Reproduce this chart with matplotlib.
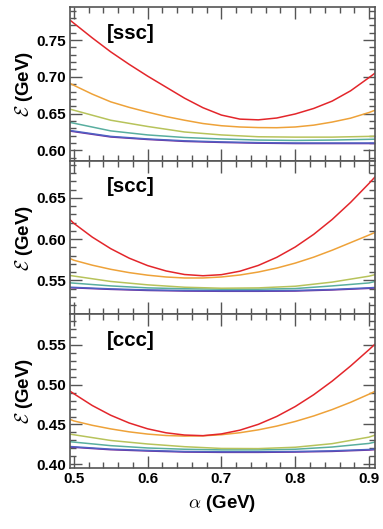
import numpy as np
import matplotlib
matplotlib.use("Agg")
import matplotlib.pyplot as plt
from matplotlib.ticker import MultipleLocator, FormatStrFormatter

plt.rcParams['font.family'] = ['Liberation Sans', 'DejaVu Sans']
plt.rcParams['font.weight'] = 'bold'
plt.rcParams['mathtext.fontset'] = 'cm'

# alpha grids (GeV): fine one for the strongly curved lines
alpha_fine = [0.495, 0.5, 0.525, 0.55, 0.575, 0.6, 0.625, 0.65, 0.675, 0.7,
              0.725, 0.75, 0.775, 0.8, 0.825, 0.85, 0.875, 0.9, 0.908]
alpha = [0.495, 0.55, 0.6, 0.65, 0.7, 0.75, 0.8, 0.85, 0.9, 0.908]

# [ssc]
ssc_red    = [0.777, 0.773, 0.753, 0.734, 0.717, 0.701, 0.686, 0.671, 0.658, 0.648,
              0.6425, 0.6415, 0.644, 0.6495, 0.657, 0.667, 0.681, 0.699, 0.705]
ssc_orange = [0.691, 0.6885, 0.6765, 0.666, 0.6585, 0.652, 0.646, 0.641, 0.6365, 0.6335,
              0.6318, 0.631, 0.6308, 0.6318, 0.6343, 0.6385, 0.6438, 0.6515, 0.6545]
ssc_yellow = [0.656, 0.641, 0.6325, 0.625, 0.621, 0.6185, 0.618, 0.618, 0.619, 0.6193]
ssc_teal   = [0.638, 0.6265, 0.621, 0.6175, 0.6155, 0.614, 0.6135, 0.614, 0.615, 0.6152]
ssc_blue   = [0.6270, 0.6190, 0.6155, 0.6130, 0.6115, 0.6105, 0.6100, 0.6100, 0.6100, 0.6100]
ssc_purple = [0.6262, 0.6182, 0.6148, 0.6122, 0.6108, 0.6098, 0.6093, 0.6093, 0.6093, 0.6093]

# [scc]
scc_red    = [0.6235, 0.6192, 0.6025, 0.5885, 0.5770, 0.5680, 0.5615, 0.5572, 0.5557, 0.5570,
              0.5612, 0.5682, 0.5780, 0.5905, 0.6058, 0.6238, 0.6445, 0.6675, 0.6752]
scc_orange = [0.5765, 0.5745, 0.5685, 0.5635, 0.5595, 0.5564, 0.5542, 0.5530, 0.5530, 0.5542,
              0.5566, 0.5602, 0.5650, 0.5710, 0.5782, 0.5866, 0.5958, 0.6050, 0.6081]
scc_yellow = [0.556, 0.5488, 0.5447, 0.5418, 0.5406, 0.541, 0.543, 0.548, 0.5552, 0.557]
scc_teal   = [0.5471, 0.5434, 0.541, 0.540, 0.5394, 0.5394, 0.5402, 0.5434, 0.547, 0.5488]
scc_blue   = [0.5418, 0.5398, 0.5385, 0.5379, 0.5375, 0.5375, 0.5379, 0.5391, 0.5411, 0.5415]
scc_purple = [0.5412, 0.5392, 0.5379, 0.5372, 0.5369, 0.5369, 0.5372, 0.5385, 0.5404, 0.5409]

# [ccc]
ccc_red    = [0.4917, 0.4886, 0.4738, 0.4616, 0.4519, 0.4446, 0.4396, 0.4368, 0.4360, 0.4382,
              0.4429, 0.4502, 0.4601, 0.4725, 0.4873, 0.5043, 0.5233, 0.5438, 0.5506]
ccc_orange = [0.4564, 0.4545, 0.4490, 0.4445, 0.4408, 0.4380, 0.4362, 0.4355, 0.4358, 0.4372,
              0.4397, 0.4433, 0.4480, 0.4538, 0.4607, 0.4687, 0.4778, 0.4880, 0.4915]
ccc_yellow = [0.4379, 0.430, 0.4256, 0.4222, 0.420, 0.4198, 0.4215, 0.426, 0.4342, 0.4367]
ccc_teal   = [0.4284, 0.4235, 0.4206, 0.419, 0.4182, 0.4182, 0.419, 0.4218, 0.4263, 0.428]
ccc_blue   = [0.4224, 0.4191, 0.4175, 0.4162, 0.4158, 0.4158, 0.4162, 0.4170, 0.4187, 0.4192]
ccc_purple = [0.4217, 0.4184, 0.4168, 0.4155, 0.4151, 0.4151, 0.4155, 0.4163, 0.4180, 0.4185]

panels = [
    ("[ssc]", [ssc_red, ssc_orange], [ssc_yellow, ssc_teal, ssc_blue, ssc_purple], (0.586, 0.795)),
    ("[scc]", [scc_red, scc_orange], [scc_yellow, scc_teal, scc_blue, scc_purple], (0.509, 0.695)),
    ("[ccc]", [ccc_red, ccc_orange], [ccc_yellow, ccc_teal, ccc_blue, ccc_purple], (0.3955, 0.588)),
]
colors_top = ['#e3262b', '#eea239']
colors_low = ['#b7c35b', '#58ae9f', '#4f62c4', '#742c9c']

fig, axes = plt.subplots(3, 1, figsize=(3.83, 5.29), dpi=100, sharex=True)
fig.subplots_adjust(left=0.183, right=0.979, top=0.9868, bottom=0.1153, hspace=0)

frame = '#555555'
for ax, (name, upper, lower, ylim) in zip(axes, panels):
    for ys, c in zip(lower[::-1], colors_low[::-1]):
        ax.plot(alpha, ys, color=c, lw=1.1)
    for ys, c in zip(upper[::-1], colors_top[::-1]):
        ax.plot(alpha_fine, ys, color=c, lw=1.1)
    ax.set_xlim(0.495, 0.908)
    ax.set_ylim(*ylim)
    ax.xaxis.set_major_locator(MultipleLocator(0.1))
    ax.xaxis.set_minor_locator(MultipleLocator(0.02))
    ax.yaxis.set_major_locator(MultipleLocator(0.05))
    ax.yaxis.set_minor_locator(MultipleLocator(0.01))
    ax.yaxis.set_major_formatter(FormatStrFormatter('%.2f'))
    ax.xaxis.set_major_formatter(FormatStrFormatter('%.1f'))
    ax.tick_params(which='both', direction='in', top=True, right=True,
                   color=frame, width=1.0, labelsize=11)
    ax.tick_params(which='major', length=8.5, pad=3)
    ax.tick_params(which='minor', length=4)
    for s in ax.spines.values():
        s.set_color(frame)
        s.set_linewidth(1.2)
    ax.text(0.121, 0.83, name, transform=ax.transAxes, fontsize=14.8,
            fontweight='bold', va='center', ha='left')
    ax.set_ylabel(r'$\mathcal{E}$ (GeV)', fontsize=13.5, fontweight='bold', labelpad=1)

axes[-1].set_xlabel(r'$\alpha$ (GeV)', fontsize=13.5, fontweight='bold', labelpad=5)

fig.savefig("out.png", dpi=100)
